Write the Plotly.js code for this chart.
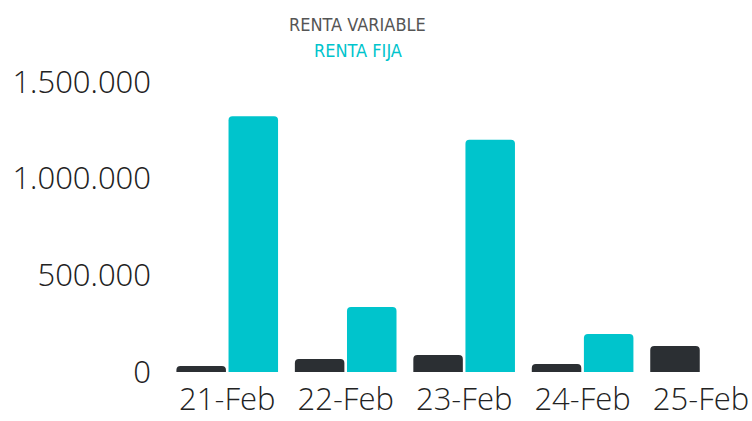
<!DOCTYPE html>
<html>
<head>
<meta charset="utf-8">
<script src="https://cdn.plot.ly/plotly-3.0.1.min.js"></script>
<style>html,body{margin:0;padding:0;background:#fff;}#chart{width:752px;height:421px;}</style>
</head>
<body>
<div id="chart"></div>
<script>
const categories = ["21-Feb", "22-Feb", "23-Feb", "24-Feb", "25-Feb"];
const seriesNames = ["RENTA VARIABLE", "RENTA FIJA"];
const rentaVariable = [31000, 67000, 88000, 41000, 134000];
const rentaFija = [1322000, 336000, 1200000, 196000, 0];
const yTicks = [0, 500000, 1000000, 1500000];

const colors = ["#2b2f33", "#00c4cc"];
const legendColors = ["#555555", "#00c4cc"];

const traces = [
  {type: "bar", name: seriesNames[0], x: categories, y: rentaVariable, marker: {color: colors[0]}, hoverinfo: "none"},
  {type: "bar", name: seriesNames[1], x: categories, y: rentaFija, marker: {color: colors[1]}, hoverinfo: "none"}
];

const tickFont = {size: 31, family: "Open Sans Light, Open Sans, sans-serif", weight: 300, color: "#222"};
const annFont = {family: "DejaVu Sans Condensed, Liberation Sans Narrow, sans-serif", size: 18};
const layout = {
  width: 752, height: 421,
  margin: {l: 168, r: 0, t: 72, b: 49},
  paper_bgcolor: "#ffffff", plot_bgcolor: "#ffffff",
  separators: ",.",
  showlegend: false,
  barmode: "group",
  bargap: 0.12,
  bargroupgap: 0.05,
  barcornerradius: 4,
  font: {family: "Open Sans, sans-serif", color: "#222"},
  xaxis: {
    range: [-0.5, 4.43], showgrid: false, zeroline: false, showline: false,
    ticks: "", tickfont: tickFont, ticklabelstandoff: 6,
    fixedrange: true
  },
  yaxis: {
    range: [0, 1550000], showgrid: false, zeroline: false, showline: false,
    tickvals: yTicks, tickformat: ",d", ticks: "",
    tickfont: tickFont,
    ticklabelstandoff: 16,
    fixedrange: true
  },
  annotations: [
    {xref: "paper", yref: "paper", x: 0.325, y: 1.16, xanchor: "center", yanchor: "middle",
     text: seriesNames[0], showarrow: false, font: Object.assign({color: legendColors[0]}, annFont)},
    {xref: "paper", yref: "paper", x: 0.325, y: 1.073, xanchor: "center", yanchor: "middle",
     text: seriesNames[1], showarrow: false, font: Object.assign({color: legendColors[1]}, annFont)}
  ]
};

Plotly.newPlot("chart", traces, layout, {displayModeBar: false, staticPlot: true});
</script>
</body>
</html>
